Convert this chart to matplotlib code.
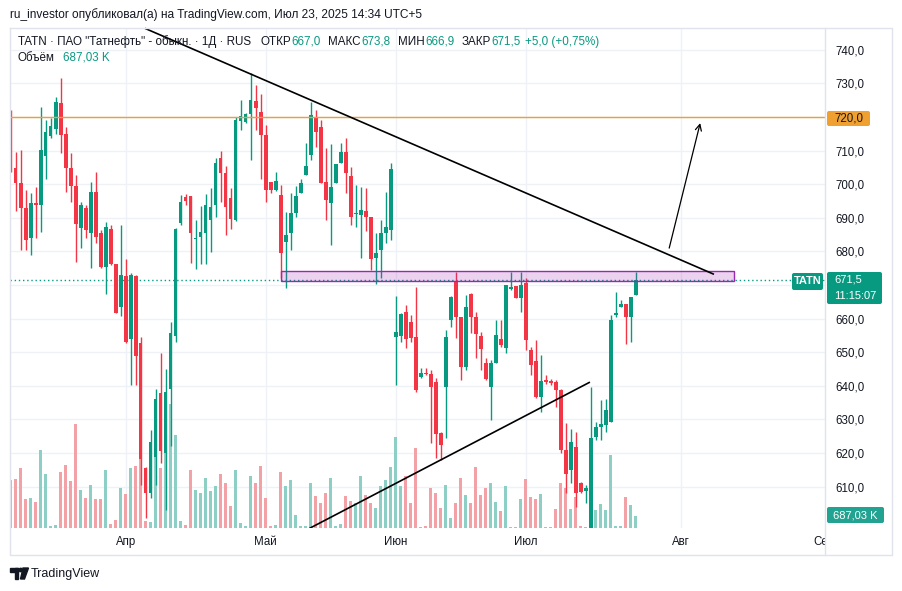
import numpy as np
import matplotlib
matplotlib.use("Agg")
import matplotlib.pyplot as plt
from matplotlib import patches, transforms
from matplotlib.lines import Line2D

plt.rcParams["font.family"] = ["Liberation Sans", "DejaVu Sans"]

# ---------------- data (TATN, daily) ----------------
opens = [714.6, 704.7, 700.3, 692.8, 683.9, 694.5, 693.8, 708.4, 714.3, 716.3,
         724.1, 715.1, 704.9, 699.6, 686.9, 693.0, 685.4, 697.8, 685.5, 675.5,
         686.6, 676.2, 663.6, 672.7, 653.8, 672.7, 652.8, 615.7, 608.2, 618.9,
         638.0, 619.9, 639.2, 654.8, 688.4, 696.3, 696.5, 683.8, 684.2, 685.6,
         689.3, 693.8, 707.7, 703.2, 695.8, 689.3, 718.9, 718.6, 720.8, 724.9,
         721.6, 714.6, 700.6, 698.3, 696.8, 682.9, 685.4, 691.3, 697.3, 702.7,
         708.7, 720.1, 716.9, 700.8, 694.5, 700.5, 706.4, 709.7, 702.4, 691.0,
         690.8, 692.1, 690.3, 678.2, 680.4, 685.4, 686.4, 654.6, 654.8, 662.1,
         659.1, 654.6, 642.5, 643.9, 643.5, 641.2, 625.9, 639.8, 659.6, 671.2,
         660.6, 645.7, 667.4, 660.5, 654.7, 646.7, 639.7, 646.7, 653.8, 651.2,
         668.7, 669.7, 666.0, 670.5, 650.7, 647.5, 636.8, 641.7, 641.5, 641.2,
         638.7, 620.9, 614.9, 621.9, 611.0, 608.8, 597.0, 624.9, 627.8, 628.3,
         629.3, 661.1, 663.6, 664.3, 660.6, 667.0]
highs = [722.1, 709.7, 710.2, 698.3, 697.3, 699.3, 723.1, 719.1, 719.6, 726.1,
         731.5, 717.1, 709.2, 702.7, 694.8, 693.8, 700.8, 703.7, 686.5, 688.8,
         687.9, 676.4, 687.9, 677.9, 673.7, 673.0, 654.6, 616.0, 626.9, 639.2,
         649.9, 644.9, 659.1, 686.9, 696.8, 697.1, 696.5, 689.3, 693.5, 697.1,
         698.8, 707.7, 709.9, 705.4, 698.8, 720.1, 725.1, 721.1, 733.0, 729.5,
         727.0, 717.6, 700.8, 703.7, 699.8, 691.8, 697.5, 699.5, 701.7, 712.2,
         724.6, 722.1, 719.1, 710.7, 712.0, 706.0, 712.2, 713.7, 705.2, 699.8,
         699.1, 698.8, 690.3, 685.6, 689.5, 697.8, 706.2, 666.7, 661.8, 664.0,
         661.1, 669.5, 645.2, 645.2, 644.7, 642.2, 626.3, 656.7, 666.6, 674.0,
         660.6, 667.0, 667.5, 662.0, 656.1, 648.2, 647.7, 659.6, 659.6, 670.0,
         674.0, 669.7, 674.0, 672.0, 651.5, 653.6, 649.2, 643.2, 641.9, 641.7,
         639.2, 628.8, 627.3, 626.3, 611.5, 610.5, 639.7, 629.3, 635.8, 636.0,
         661.1, 668.0, 665.7, 664.5, 666.5, 673.8]
lows = [703.5, 692.0, 680.4, 680.4, 678.9, 684.0, 685.9, 701.7, 713.7, 715.0,
        709.2, 697.8, 694.8, 676.9, 680.9, 683.9, 675.0, 682.4, 675.0, 667.3,
        676.0, 661.6, 660.8, 652.8, 640.2, 640.2, 610.6, 600.6, 606.5, 610.5,
        617.0, 603.0, 622.0, 653.1, 687.9, 693.8, 676.6, 674.7, 676.4, 676.4,
        679.9, 690.3, 694.8, 684.9, 686.6, 689.1, 716.1, 718.1, 707.2, 716.1,
        701.7, 694.8, 697.5, 698.1, 672.0, 669.0, 680.4, 690.3, 697.3, 702.7,
        707.2, 711.2, 700.3, 689.3, 681.9, 700.3, 706.4, 697.5, 687.9, 687.4,
        678.2, 686.2, 674.5, 670.3, 672.0, 682.4, 683.4, 640.2, 653.1, 651.2,
        653.1, 638.3, 642.2, 643.2, 623.0, 618.5, 618.0, 624.4, 657.6, 654.1,
        641.7, 644.6, 655.6, 648.2, 644.7, 641.7, 629.8, 646.7, 651.6, 649.9,
        668.5, 666.0, 662.1, 650.7, 643.2, 636.3, 632.3, 640.7, 640.2, 633.8,
        619.9, 608.0, 611.0, 604.0, 608.0, 605.0, 596.0, 623.9, 623.9, 626.3,
        629.3, 660.6, 663.4, 652.6, 653.1, 666.9]
closes = [704.5, 700.3, 692.8, 683.4, 694.3, 693.8, 710.2, 715.6, 717.3, 724.6,
          714.6, 704.7, 699.6, 688.2, 693.8, 686.4, 697.8, 684.2, 675.5, 687.4,
          676.4, 661.8, 673.0, 653.1, 673.0, 648.9, 618.1, 608.0, 623.4, 636.0,
          620.7, 638.3, 655.6, 686.6, 694.8, 695.0, 685.6, 684.1, 685.9, 693.8,
          693.3, 706.4, 703.2, 693.3, 689.8, 719.1, 720.3, 720.8, 725.1, 722.6,
          714.6, 698.3, 698.3, 701.0, 679.4, 684.9, 691.3, 696.5, 700.3, 705.4,
          720.6, 715.6, 700.3, 695.3, 699.1, 706.0, 709.7, 703.4, 690.3, 691.2,
          692.3, 690.3, 677.9, 679.6, 685.4, 687.4, 704.4, 656.1, 661.4, 653.8,
          654.1, 638.8, 643.9, 643.5, 639.7, 625.6, 622.4, 654.5, 666.5, 660.6,
          645.7, 663.6, 660.6, 655.4, 651.0, 641.9, 646.7, 655.1, 652.1, 670.0,
          669.5, 666.0, 670.0, 653.6, 646.2, 636.8, 641.5, 641.2, 640.9, 638.9,
          620.9, 613.9, 623.4, 608.0, 608.5, 609.5, 624.4, 627.8, 628.6, 632.8,
          659.6, 661.8, 664.5, 660.6, 666.5, 671.5]
# volume, thousands of shares (rough, from bar heights)
volumes = [3300, 3343, 4145, 2015, 2084, 1786, 5336, 3733, 115, 183,
           3847, 4305, 3206, 7122, 2588, 2061, 2931, 1969, 1969, 4008,
           252, 527, 2748, 2313, 4145, 4259, 5450, 481, 412, 8542,
           4145, 7000, 8500, 6400, 458, 183, 3962, 2588, 2405, 3458,
           2519, 2863, 3687, 3092, 1489, 3962, 344, 115, 3550, 3092,
           4259, 2061, 137, 183, 3847, 2863, 3275, 870, 115, 137,
           3069, 2198, 1740, 2427, 3412, 137, 298, 2198, 1855, 1740,
           3572, 2267, 1740, 1351, 2885, 3298, 4191, 6252, 2885, 3572,
           1740, 5519, 69, 137, 2771, 2427, 1397, 2954, 710, 1740,
           3412, 2267, 1740, 4191, 2267, 2771, 3069, 1809, 1168, 2885,
           69, 69, 1969, 3343, 2130, 1969, 2313, 69, 69, 1282,
           3069, 2771, 1282, 2130, 137, 69, 1500, 1240, 1650, 1270,
           5030, 160, 115, 2100, 1600, 850]

month_pos = [23, 51, 77, 103, 134]
month_labels = ["Апр", "Май", "Июн", "Июл", "Авг"]
price_ticks = [610, 620, 630, 640, 650, 660, 670, 680, 690, 700, 710, 720, 730, 740]

# drawings on the chart (bar index, price)
down_trend = [(27.0, 746.3), (140.5, 673.3)]
up_trend = [(59.9, 597.7), (115.7, 641.0)]
arrow_from = (131.7, 681.0)
arrow_to = (137.9, 718.2)
zone = (54.0, 144.7, 671.3, 674.3)
level = 720.0
last_price = 671.5

# ---------------- styles ----------------
UP = "#089981"
DOWN = "#f23645"
UP_VOL = "#8ecfc5"
DOWN_VOL = "#f2a1a6"
ORANGE = "#f0a030"
DARK = "#131722"
GRID = "#eef1f6"
FRAME = "#e0e3eb"

W, H = 902, 591
fig = plt.figure(figsize=(W / 100, H / 100), dpi=100)
fig.patch.set_facecolor("white")
# pixel coordinates, origin top-left
PX = transforms.Affine2D().scale(1 / W, -1 / H).translate(0, 1) + fig.transFigure

rect = [10 / W, 1 - 528 / H, 815 / W, 500 / H]
ax_bg = fig.add_axes(rect)
ax_v = fig.add_axes(rect, sharex=ax_bg)
ax = fig.add_axes(rect, sharex=ax_bg, sharey=ax_bg)
for a in (ax_v, ax):
    a.patch.set_visible(False)
    a.axis("off")

ax_bg.set_xlim(-0.14, 162.86)
ax_bg.set_ylim(597.7, 746.5)
for s in ax_bg.spines.values():
    s.set_visible(False)
ax_bg.yaxis.tick_right()
# the 670 label sits under the last-price label, so it is not shown
ax_bg.set_yticks(price_ticks, ["" if abs(p - last_price) < 5 else f"{p:.1f}".replace(".", ",")
                               for p in price_ticks])
ax_bg.set_xticks(month_pos, month_labels)
ax_bg.tick_params(axis="y", length=0, pad=7.5, labelsize=8.3, labelcolor=DARK)
ax_bg.tick_params(axis="x", length=0, pad=6, labelsize=8.3, labelcolor=DARK)
ax_bg.grid(True, color=GRID, lw=1)
ax_bg.set_axisbelow(True)

# "Сен" label cut by the price scale
t = ax_bg.text(162.7, 542, "Сен", transform=transforms.blended_transform_factory(ax_bg.transData, PX),
               ha="center", va="center", fontsize=8.3, color=DARK)
t.set_clip_box(transforms.TransformedBbox(transforms.Bbox([[10, 530], [825, 555]]), PX))
t.set_clip_on(True)

x = np.arange(len(opens))
o = np.array(opens)
c = np.array(closes)
up = c >= o

# volume
ax_v.bar(x, volumes, width=0.7, color=np.where(up, UP_VOL, DOWN_VOL), linewidth=0)
ax_v.set_ylim(0, 34350)

# candles
col = np.where(up, UP, DOWN)
ax.vlines(x, lows, highs, colors=col, lw=1.0, zorder=2)
ax.bar(x, np.maximum(np.abs(c - o), 0.3), bottom=np.minimum(o, c), width=0.72,
       color=col, linewidth=0, zorder=2)

# drawings
ax.axhline(last_price, color=UP, lw=1, ls=(0, (1, 2)), zorder=1)
ax.axhline(level, color=ORANGE, lw=1, zorder=3)
ax.add_patch(patches.Rectangle((zone[0], zone[2]), zone[1] - zone[0], zone[3] - zone[2],
                               facecolor=(0.61, 0.15, 0.69, 0.2), edgecolor="#9c27b0",
                               lw=1, zorder=3))
ax.plot(*zip(*down_trend), color="black", lw=1.2, zorder=4, clip_on=False)
ax.plot(*zip(*up_trend), color="black", lw=1.2, zorder=4)
ax.annotate("", xy=arrow_to, xytext=arrow_from,
            arrowprops=dict(arrowstyle="->", color="black", lw=0.9,
                            mutation_scale=11, shrinkA=0, shrinkB=0), zorder=4)

# frame of the chart
fig.add_artist(Line2D([10, 892, 892, 10, 10], [28, 28, 555, 555, 28], transform=PX, color=FRAME, lw=1))
fig.add_artist(Line2D([825, 825], [28, 555], transform=PX, color=FRAME, lw=1))


def box(x0, y0, x1, y1, color):
    fig.add_artist(patches.FancyBboxPatch((x0, y0), x1 - x0, y1 - y0,
                                          boxstyle="round,pad=0,rounding_size=2",
                                          transform=PX, facecolor=color, edgecolor="none"))


def label(xp, yp, s, color, size=8.3, **kw):
    fig.text(xp, yp, s, transform=PX, color=color, fontsize=size, va="center", **kw)


# price scale labels
box(827, 111, 870, 126, ORANGE)
label(848.5, 118.5, "720,0", DARK, ha="center")
box(792, 273, 823, 290, UP)
label(807.5, 281.5, "TATN", "white", size=8, weight="bold", ha="center")
box(827, 272, 882, 304, UP)
label(834, 280, "671,5", "white", size=8)
label(834, 296, "11:15:07", "white", size=8)
box(827, 507, 884, 523, "#22a391")
label(855.5, 515, "687,03 K", "white", size=8, ha="center")

# header lines
renderer = fig.canvas.get_renderer()


def runs(xp, yp, parts, size=8.4):
    for s, color, gap in parts:
        tt = fig.text(xp, yp, s, transform=PX, color=color, fontsize=size, va="center")
        xp += tt.get_window_extent(renderer=renderer).width + gap


label(10, 15, "ru_investor опубликовал(а) на TradingView.com, Июл 23, 2025 14:34 UTC+5", DARK, size=8.6)
runs(18, 42, [("TATN · ПАО \"Татнефть\" - обыкн. · 1Д · RUS", DARK, 9),
              ("ОТКР", DARK, 1), ("667,0", UP, 7),
              ("МАКС", DARK, 1), ("673,8", UP, 7),
              ("МИН", DARK, 1), ("666,9", UP, 7),
              ("ЗАКР", DARK, 1), ("671,5", UP, 4),
              ("+5,0 (+0,75%)", UP, 0)])
runs(18, 58, [("Объём", DARK, 8), ("687,03 K", UP, 0)])

# TradingView logo
fig.add_artist(patches.Rectangle((10, 568), 8, 3.5, transform=PX, color=DARK))
fig.add_artist(patches.Rectangle((14.5, 568), 3.5, 11, transform=PX, color=DARK))
fig.add_artist(patches.Circle((20.7, 570), 1.7, transform=PX, color=DARK))
fig.add_artist(patches.Polygon([(23, 568), (28.5, 568), (24.5, 579), (20.5, 579)], transform=PX, color=DARK))
label(31, 574, "TradingView", DARK, size=9)

fig.savefig("out.png", dpi=100, facecolor="white")
